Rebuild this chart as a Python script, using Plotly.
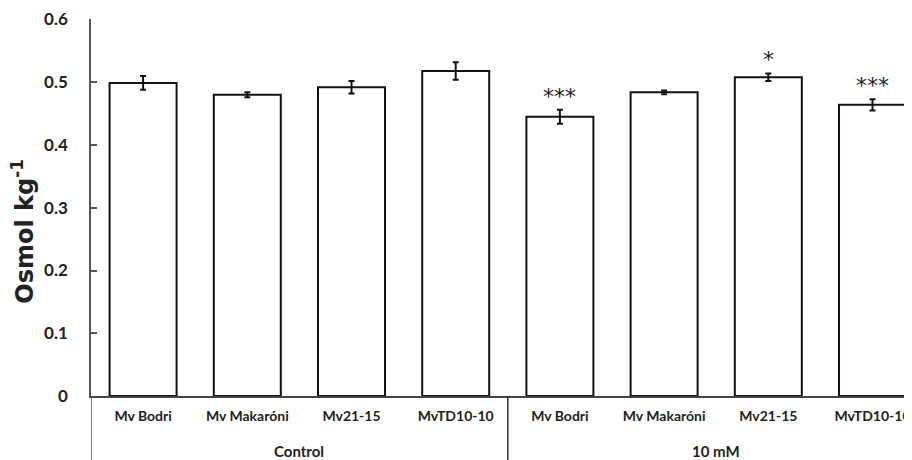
import plotly.graph_objects as go

groups = ["Control", "10 mM"]
cultivars = ["Mv Bodri", "Mv Makaróni", "Mv21-15", "MvTD10-10"]
control_vals = [0.499, 0.480, 0.492, 0.518]
control_err = [0.011, 0.004, 0.010, 0.014]
treat_vals = [0.445, 0.484, 0.508, 0.464]
treat_err = [0.011, 0.003, 0.006, 0.009]
treat_sig = ["***", "", "*", "***"]
y_ticks = [0, 0.1, 0.2, 0.3, 0.4, 0.5, 0.6]
y_tick_text = ["0", "0.1", "0.2", "0.3", "0.4", "0.5", "0.6"]
y_title = "Osmol kg<sup>-1</sup>"

values = control_vals + treat_vals
errors = control_err + treat_err
labels = cultivars + cultivars
sig = ["", "", "", ""] + treat_sig
xs = list(range(len(values)))

FONT = "Lato, 'Open Sans', sans-serif"
WIDE = "'DejaVu Sans', sans-serif"

fig = go.Figure()
fig.add_trace(go.Bar(
    x=xs, y=values, width=0.643,
    marker=dict(color="white", line=dict(color="#111", width=2)),
    error_y=dict(type="data", array=errors, color="#111", thickness=2, width=3),
    showlegend=False,
))

annotations = []
for x, v, e, s in zip(xs, values, errors, sig):
    if s:
        annotations.append(dict(x=x, y=v + e, xref="x", yref="y", text=s,
                                showarrow=False, yanchor="bottom", yshift=-1,
                                font=dict(family=WIDE, size=22, color="#222")))
n = len(cultivars)
for gi, g in enumerate(groups):
    annotations.append(dict(x=gi * n + (n - 1) / 2, y=-0.146, xref="x", yref="paper",
                            text="<b>%s</b>" % g, showarrow=False, yanchor="middle",
                            font=dict(family=FONT, size=15, color="#222")))
annotations.append(dict(x=-0.083, y=0.438, xref="paper", yref="paper",
                        text="<b>%s</b>" % y_title, textangle=-90, showarrow=False,
                        xanchor="center", yanchor="middle",
                        font=dict(family=WIDE, size=24, color="#222")))

shapes = [
    dict(type="line", xref="x", yref="paper", x0=n - 0.5, x1=n - 0.5, y0=0, y1=-0.2,
         line=dict(color="#333", width=1.5)),
    dict(type="line", xref="x", yref="paper", x0=-0.5, x1=-0.5, y0=0, y1=-0.2,
         line=dict(color="#555", width=1.5)),
]

fig.update_layout(
    width=904, height=452,
    margin=dict(l=83, r=0, t=11, b=64),
    paper_bgcolor="white", plot_bgcolor="white",
    font=dict(family=FONT, color="#222"),
    annotations=annotations, shapes=shapes,
    xaxis=dict(range=[-0.5, 7.379], tickvals=xs, automargin=False,
               ticktext=["<b>%s</b>" % l for l in labels],
               tickfont=dict(family=FONT, size=14, color="#222"),
               ticklabelstandoff=6,
               showline=True, linecolor="#444", linewidth=1.5,
               ticks="", showgrid=False, zeroline=False),
    yaxis=dict(range=[0, 0.6008], tickvals=y_ticks, automargin=False,
               ticktext=["<b>%s</b>" % t for t in y_tick_text],
               tickfont=dict(family=FONT, size=17, color="#222"),
               ticklabelstandoff=18,
               showline=True, linecolor="#555", linewidth=1.5,
               ticks="inside", ticklen=6, tickwidth=1.5, tickcolor="#555",
               showgrid=False, zeroline=False),
)

fig.write_html("out.html")
